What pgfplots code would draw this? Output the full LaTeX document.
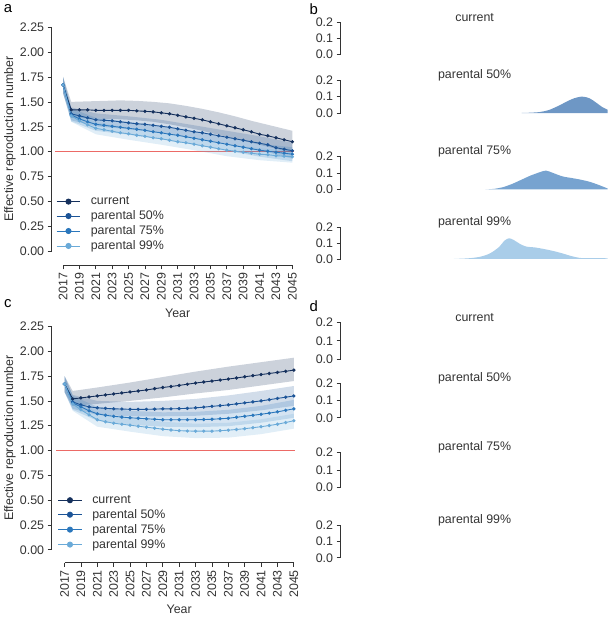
\documentclass[border=0pt]{standalone}
\usepackage{fontspec}
\setmainfont{Liberation Sans}
\usepackage{pgfplots}
\pgfplotsset{compat=1.18}
\definecolor{axc}{HTML}{333333}
\definecolor{cur}{HTML}{15305C}
\definecolor{pfifty}{HTML}{1C5497}
\definecolor{pseventy}{HTML}{2B77BC}
\definecolor{pnn}{HTML}{6AAAD8}
\definecolor{rb}{HTML}{6E97C5}
\definecolor{rc}{HTML}{77A3D0}
\definecolor{rd}{HTML}{A9CDE9}
\newcommand\tf{\fontsize{12.5}{14}\selectfont}
\pgfplotsset{
 base/.style={scale only axis, clip=false, axis lines*=left,
   axis line style={line width=0.7pt, draw=axc},
   tick style={line width=0.7pt, draw=axc},
   tick align=outside, major tick length=4pt,
   tick label style={font=\tf, text=axc},
   /pgf/number format/assume math mode=true,
   /pgf/number format/1000 sep={},
   xmin=2017, xmax=2045,
   xtick={2017,2019,...,2045},
   x tick label style={rotate=90, anchor=east},
   every axis x label/.style={at={(rel axis cs:0.5,0)}, anchor=center, font=\tf, text=axc},
   every axis y label/.style={at={(rel axis cs:0,0.5)}, anchor=center, rotate=90, font=\tf, text=axc},
   title style={at={(0.475,1)}, anchor=center, font=\tf, text=axc, yshift=-1pt},
 },
 rnum/.style={base, ymin=0, ymax=2.25, width=231pt,
   ytick={0,0.25,0.5,0.75,1,1.25,1.5,1.75,2,2.25},
   y tick label style={/pgf/number format/.cd, fixed, fixed zerofill, precision=2},
   xlabel={Year}, ylabel={Effective reproduction number},
   legend style={draw=none, fill=none, at={(-0.031,0.253)}, anchor=north west,
     font=\tf, text=axc, inner sep=0pt, row sep=0.5pt,
     /tikz/every odd column/.style={column sep=8pt}},
   legend cell align=left,
   legend image code/.code={\draw[##1, mark=none] (0pt,0pt) -- (24pt,0pt); \fill[##1] (12pt,0pt) circle (2.6pt);},
 },
 ridge/.style={base, ymin=0, ymax=0.2, width=255pt,
   axis x line=none, axis y line shift=14pt,
   ytick={0,0.1,0.2},
   y tick label style={/pgf/number format/.cd, fixed, fixed zerofill, precision=1},
 },
 ridgebottom/.style={ridge, axis x line*=bottom, axis x line shift=6pt,
   xlabel={Year of measles elimination}},
 ser/.style={line width=0.9pt, mark=*, mark size=1.2pt, mark options={solid}},
 band/.style={draw=none, fill=#1, fill opacity=0.2, forget plot},
 refl/.style={draw={rgb,255:red,236;green,106;blue,102}, line width=1.1pt, forget plot, mark=none},
}
\begin{document}
\begin{tikzpicture}
\path (0pt,0pt) rectangle (617pt,617pt);
\node[font=\fontsize{15}{15}\selectfont, text=black] at (8pt,609pt) {a};
\node[font=\fontsize{15}{15}\selectfont, text=black] at (316pt,609pt) {b};
\node[font=\fontsize{15}{15}\selectfont, text=black] at (8pt,312pt) {c};
\node[font=\fontsize{15}{15}\selectfont, text=black] at (316pt,309pt) {d};

% ---------------- panel a ----------------
\begin{axis}[rnum, at={(63.5pt,364.556pt)}, anchor=south west, height=226pt,
  axis x line shift=14pt, axis y line shift=11.5pt,
  xlabel style={yshift=-62pt}, ylabel style={yshift=53.5pt}]
\addplot[refl] coordinates {(2016,1) (2045.2,1)};
\addplot[band=cur, fill opacity=0.22] coordinates {(2017,1.75) (2018,1.50) (2020,1.505) (2022,1.51) (2024,1.515) (2026,1.51) (2028,1.50) (2030,1.485) (2032,1.46) (2034,1.43) (2036,1.395) (2038,1.355) (2040,1.31) (2042,1.27) (2044,1.23) (2045,1.21)
 (2045,0.99) (2044,1.01) (2042,1.05) (2040,1.09) (2038,1.13) (2036,1.17) (2034,1.21) (2032,1.245) (2030,1.275) (2028,1.30) (2026,1.315) (2024,1.325) (2022,1.33) (2020,1.335) (2018,1.34) (2017,1.59)} -- cycle;
\addplot[band=pfifty] coordinates {(2017,1.75) (2018,1.445) (2021,1.385) (2025,1.355) (2029,1.32) (2033,1.265) (2037,1.21) (2041,1.155) (2045,1.09)
 (2045,0.93) (2041,1.015) (2037,1.08) (2033,1.135) (2029,1.19) (2025,1.225) (2021,1.255) (2018,1.315) (2017,1.59)} -- cycle;
\addplot[band=pseventy] coordinates {(2017,1.75) (2018,1.435) (2021,1.34) (2025,1.30) (2029,1.255) (2033,1.20) (2037,1.14) (2041,1.08) (2045,1.045)
 (2045,0.905) (2041,0.95) (2037,1.01) (2033,1.07) (2029,1.125) (2025,1.17) (2021,1.21) (2018,1.305) (2017,1.59)} -- cycle;
\addplot[band=pnn] coordinates {(2017,1.75) (2018,1.42) (2021,1.295) (2025,1.24) (2029,1.19) (2033,1.135) (2037,1.075) (2041,1.035) (2045,1.01)
 (2045,0.89) (2041,0.915) (2037,0.955) (2033,1.015) (2029,1.07) (2025,1.12) (2021,1.175) (2018,1.30) (2017,1.59)} -- cycle;
\addplot[ser, cur] coordinates {(2017,1.67) (2018,1.42) (2019,1.42) (2020,1.42) (2021,1.415) (2022,1.415) (2023,1.415) (2024,1.415) (2025,1.415) (2026,1.41) (2027,1.405) (2028,1.40) (2029,1.39) (2030,1.38) (2031,1.365) (2032,1.35) (2033,1.335) (2034,1.32) (2035,1.30) (2036,1.28) (2037,1.26) (2038,1.24) (2039,1.22) (2040,1.20) (2041,1.175) (2042,1.16) (2043,1.14) (2044,1.12) (2045,1.10)};
\addlegendentry{current}
\addplot[ser, pfifty] coordinates {(2017,1.67) (2018,1.38) (2019,1.36) (2020,1.34) (2021,1.32) (2022,1.315) (2023,1.31) (2024,1.30) (2025,1.29) (2026,1.28) (2027,1.275) (2028,1.265) (2029,1.255) (2030,1.245) (2031,1.23) (2032,1.215) (2033,1.20) (2034,1.19) (2035,1.175) (2036,1.16) (2037,1.145) (2038,1.13) (2039,1.115) (2040,1.10) (2041,1.085) (2042,1.07) (2043,1.04) (2044,1.025) (2045,1.01)};
\addlegendentry{parental 50\%}
\addplot[ser, pseventy] coordinates {(2017,1.67) (2018,1.37) (2019,1.33) (2020,1.30) (2021,1.275) (2022,1.265) (2023,1.255) (2024,1.245) (2025,1.235) (2026,1.225) (2027,1.215) (2028,1.20) (2029,1.19) (2030,1.175) (2031,1.165) (2032,1.15) (2033,1.135) (2034,1.12) (2035,1.105) (2036,1.09) (2037,1.075) (2038,1.06) (2039,1.045) (2040,1.03) (2041,1.015) (2042,1.005) (2043,0.995) (2044,0.985) (2045,0.975)};
\addlegendentry{parental 75\%}
\addplot[ser, pnn] coordinates {(2017,1.67) (2018,1.36) (2019,1.31) (2020,1.27) (2021,1.235) (2022,1.22) (2023,1.205) (2024,1.19) (2025,1.18) (2026,1.165) (2027,1.155) (2028,1.14) (2029,1.13) (2030,1.115) (2031,1.10) (2032,1.09) (2033,1.075) (2034,1.06) (2035,1.045) (2036,1.03) (2037,1.015) (2038,1.005) (2039,0.995) (2040,0.985) (2041,0.975) (2042,0.97) (2043,0.96) (2044,0.955) (2045,0.95)};
\addlegendentry{parental 99\%}
\end{axis}

% ---------------- panel c ----------------
\begin{axis}[rnum, at={(65pt,64pt)}, anchor=south west, height=225pt,
  axis x line shift=13pt, axis y line shift=13pt,
  xlabel style={yshift=-60pt}, ylabel style={yshift=55pt}]
\addplot[refl] coordinates {(2016,1) (2045.2,1)};
\addplot[band=cur, fill opacity=0.22] coordinates {(2017,1.75) (2018,1.60) (2021,1.635) (2025,1.685) (2029,1.74) (2033,1.795) (2037,1.845) (2041,1.89) (2045,1.935)
 (2045,1.70) (2041,1.655) (2037,1.61) (2033,1.575) (2029,1.535) (2025,1.50) (2021,1.47) (2018,1.45) (2017,1.59)} -- cycle;
\addplot[band=pfifty] coordinates {(2017,1.75) (2018,1.56) (2021,1.50) (2025,1.49) (2029,1.50) (2033,1.52) (2037,1.555) (2041,1.60) (2045,1.65)
 (2045,1.45) (2041,1.405) (2037,1.37) (2033,1.35) (2029,1.345) (2025,1.345) (2021,1.36) (2018,1.42) (2017,1.59)} -- cycle;
\addplot[band=pseventy] coordinates {(2017,1.75) (2018,1.55) (2021,1.44) (2025,1.40) (2029,1.385) (2033,1.39) (2037,1.41) (2041,1.45) (2045,1.51)
 (2045,1.33) (2041,1.28) (2037,1.245) (2033,1.235) (2029,1.24) (2025,1.26) (2021,1.30) (2018,1.41) (2017,1.59)} -- cycle;
\addplot[band=pnn] coordinates {(2017,1.75) (2018,1.54) (2021,1.38) (2025,1.325) (2029,1.29) (2033,1.27) (2037,1.28) (2041,1.315) (2045,1.37)
 (2045,1.22) (2041,1.165) (2037,1.13) (2033,1.125) (2029,1.145) (2025,1.19) (2021,1.24) (2018,1.40) (2017,1.59)} -- cycle;
\addplot[ser, cur] coordinates {(2017,1.67) (2018,1.52) (2019,1.53) (2020,1.54) (2021,1.55) (2022,1.56) (2023,1.57) (2024,1.58) (2025,1.59) (2026,1.60) (2027,1.61) (2028,1.623) (2029,1.635) (2030,1.645) (2031,1.656) (2032,1.668) (2033,1.68) (2034,1.69) (2035,1.70) (2036,1.71) (2037,1.72) (2038,1.731) (2039,1.743) (2040,1.754) (2041,1.765) (2042,1.776) (2043,1.787) (2044,1.798) (2045,1.81)};
\addlegendentry{current}
\addplot[ser, pfifty] coordinates {(2017,1.67) (2018,1.49) (2019,1.46) (2020,1.44) (2021,1.43) (2022,1.425) (2023,1.42) (2024,1.418) (2025,1.415) (2026,1.415) (2027,1.415) (2028,1.417) (2029,1.42) (2030,1.42) (2031,1.422) (2032,1.425) (2033,1.43) (2034,1.437) (2035,1.445) (2036,1.452) (2037,1.46) (2038,1.47) (2039,1.48) (2040,1.49) (2041,1.50) (2042,1.512) (2043,1.525) (2044,1.537) (2045,1.55)};
\addlegendentry{parental 50\%}
\addplot[ser, pseventy] coordinates {(2017,1.67) (2018,1.48) (2019,1.44) (2020,1.40) (2021,1.37) (2022,1.355) (2023,1.345) (2024,1.337) (2025,1.33) (2026,1.325) (2027,1.32) (2028,1.315) (2029,1.31) (2030,1.31) (2031,1.31) (2032,1.31) (2033,1.31) (2034,1.312) (2035,1.315) (2036,1.32) (2037,1.325) (2038,1.335) (2039,1.345) (2040,1.355) (2041,1.365) (2042,1.377) (2043,1.39) (2044,1.405) (2045,1.42)};
\addlegendentry{parental 75\%}
\addplot[ser, pnn] coordinates {(2017,1.67) (2018,1.47) (2019,1.41) (2020,1.36) (2021,1.31) (2022,1.29) (2023,1.275) (2024,1.265) (2025,1.255) (2026,1.245) (2027,1.235) (2028,1.225) (2029,1.215) (2030,1.207) (2031,1.20) (2032,1.197) (2033,1.195) (2034,1.195) (2035,1.195) (2036,1.20) (2037,1.205) (2038,1.212) (2039,1.22) (2040,1.23) (2041,1.24) (2042,1.252) (2043,1.265) (2044,1.282) (2045,1.30)};
\addlegendentry{parental 99\%}
\end{axis}

% ---------------- panel b ----------------
\begin{axis}[ridge, at={(357pt,563pt)}, anchor=south west, height=32pt, title={current}]
\addplot[draw=none] coordinates {(2017,0) (2045,0)};
\end{axis}
\begin{axis}[ridge, at={(357pt,504pt)}, anchor=south west, height=33pt, title={parental 50\%}]
\addplot[draw=none, fill=rb, smooth] coordinates {(2035.5,0) (2036.5,0.002) (2037.5,0.006) (2038.5,0.018) (2039.5,0.042) (2040.5,0.07) (2041.3,0.09) (2042.2,0.1) (2043,0.09) (2043.7,0.065) (2044.4,0.037) (2045,0.02)} \closedcycle;
\end{axis}
\begin{axis}[ridge, at={(357pt,427pt)}, anchor=south west, height=33pt, title={parental 75\%}]
\addplot[draw=none, fill=rc, smooth] coordinates {(2031.5,0) (2032.5,0.004) (2033.5,0.015) (2034.5,0.035) (2035.5,0.06) (2036.5,0.085) (2037.5,0.105) (2038.2,0.115) (2039,0.10) (2040,0.08) (2041,0.07) (2042,0.06) (2043,0.047) (2044,0.028) (2045,0.006)} \closedcycle;
\end{axis}
\begin{axis}[ridgebottom, at={(357pt,357pt)}, anchor=south west, height=32pt, title={parental 99\%},
  xlabel style={yshift=-50pt}]
\addplot[draw=none, fill=rd, smooth] coordinates {(2028,0) (2029,0.002) (2030,0.006) (2031,0.015) (2032,0.035) (2033,0.075) (2033.6,0.115) (2034.1,0.13) (2034.6,0.12) (2035.3,0.095) (2036,0.078) (2037,0.072) (2038,0.062) (2039,0.05) (2040,0.035) (2041,0.018) (2042,0.006) (2043,0.005) (2044,0.005) (2045,0.004)} \closedcycle;
\end{axis}

% ---------------- panel d ----------------
\begin{axis}[ridge, at={(357pt,256pt)}, anchor=south west, height=37pt, title={current}]
\addplot[draw=none] coordinates {(2017,0) (2045,0)};
\end{axis}
\begin{axis}[ridge, at={(357pt,197pt)}, anchor=south west, height=35pt, title={parental 50\%}]
\addplot[draw=none] coordinates {(2017,0) (2045,0)};
\end{axis}
\begin{axis}[ridge, at={(357pt,127pt)}, anchor=south west, height=35pt, title={parental 75\%}]
\addplot[draw=none] coordinates {(2017,0) (2045,0)};
\end{axis}
\begin{axis}[ridgebottom, at={(357pt,56pt)}, anchor=south west, height=33pt, title={parental 99\%},
  xlabel style={yshift=-51pt}]
\addplot[draw=none] coordinates {(2017,0) (2045,0)};
\end{axis}
\end{tikzpicture}
\end{document}
